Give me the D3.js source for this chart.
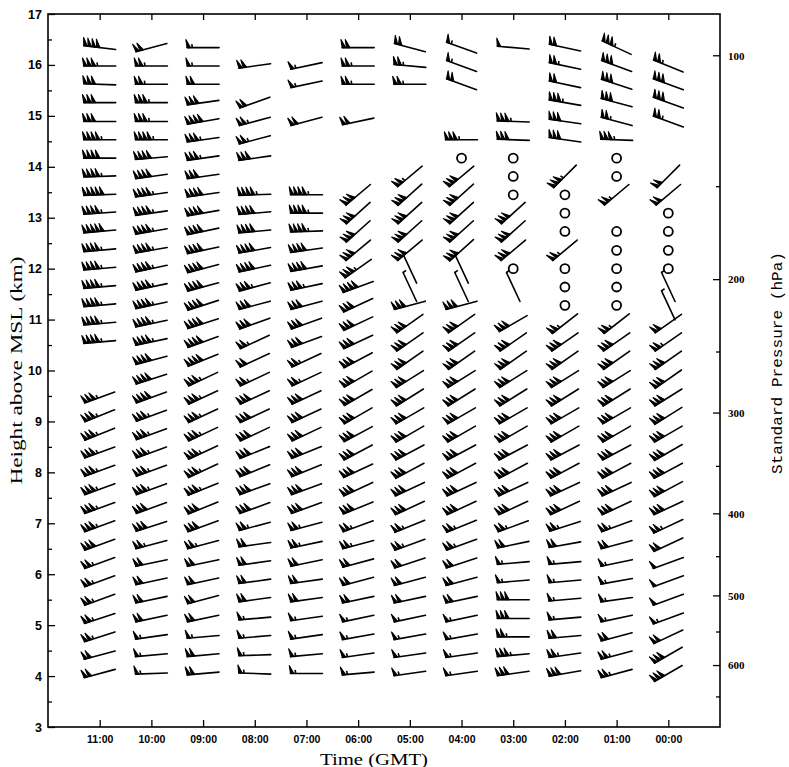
<!DOCTYPE html>
<html>
<head>
<meta charset="UTF-8">
<title>Profiler winds</title>
<script src="https://cdn.jsdelivr.net/npm/d3@7/dist/d3.min.js"></script>
<style>
  body { margin: 0; background: #fff; }
  text { fill: #000; }
</style>
</head>
<body>
<script>
// time columns, left to right (hours GMT)
var timeLabels = ["11:00","10:00","09:00","08:00","07:00","06:00","05:00","04:00","03:00","02:00","01:00","00:00"];
var timeHours = [11,10,9,8,7,6,5,4,3,2,1,0];

// range gate heights (km), bottom to top
var gateHeights = [4.05,4.41,4.77,5.13,5.50,5.86,6.22,6.58,6.94,7.30,7.67,8.03,8.39,8.75,9.11,9.47,
                   9.83,10.20,10.56,10.92,11.28,11.64,12.00,12.36,12.73,13.09,13.45,13.81,14.17,14.53,
                   14.89,15.26,15.62,15.98,16.34];

// axis ticks
var heightTicks = [3,4,5,6,7,8,9,10,11,12,13,14,15,16,17];
var heightMinor = [3.5,4.5,5.5,6.5,7.5,8.5,9.5,10.5,11.5,12.5,13.5,14.5,15.5,16.5];
var pressTicks = [100,200,300,400,500,600];
var pressMinor = [150,250,350,450,550,650];

// winds per column: [direction deg, speed], bottom gate first; null = no data, [0,0] = calm
var wind1100 = [[255,20],[255,20],[252,25],[252,25],[250,25],[250,25],[250,25],[250,30],[250,35],[250,35],[250,35],[250,35],[250,35],[248,35],[248,35],[250,35],null,null,
  [265,45],[265,45],[265,45],[265,45],[265,45],[265,45],[265,50],[266,45],[268,50],[268,45],[270,40],[270,45],[270,30],[270,30],[272,30],[270,35],[277,40]];
var wind1000 = [[268,15],[265,15],[262,15],[258,20],[258,20],[258,20],[258,20],[255,25],[252,30],[250,30],[250,35],[250,35],[250,35],[250,35],[250,35],[250,40],[252,40],[255,40],
  [258,45],[258,45],[258,45],[258,45],[258,45],[260,45],[260,45],[262,45],[262,45],[262,40],[265,40],[270,45],[270,35],[270,35],[270,25],[270,25],[255,20]];
var wind0900 = [[265,20],[265,20],[265,15],[258,20],[255,20],[258,20],[258,20],[255,25],[250,30],[248,30],[248,35],[245,35],[245,35],[245,35],[245,35],[245,35],[245,35],[248,40],
  [250,40],[252,40],[252,40],[255,40],[255,40],[258,40],[258,40],[260,40],[262,40],[262,30],[262,35],[262,35],[260,40],[262,30],[270,20],[270,15],[270,15]];
var wind0800 = [[272,15],[268,15],[265,15],[265,15],[262,20],[262,20],[262,20],[262,20],[255,25],[250,30],[250,30],[248,30],[248,30],[245,30],[245,30],[245,30],[245,25],[245,20],
  [245,25],[250,30],[255,30],[255,35],[258,40],[260,40],[265,40],[265,40],[268,45],null,[262,30],[255,25],[255,25],[250,20],null,[262,20],null];
var wind0700 = [[270,15],[265,15],[262,15],[262,15],[262,20],[262,20],[258,20],[258,25],[255,25],[250,30],[250,30],[248,30],[248,30],[245,30],[245,30],[245,30],[245,25],[245,25],
  [250,30],[250,30],[255,30],[258,35],[260,40],[262,40],[268,45],[270,45],[270,45],null,null,null,[255,20],null,[258,15],[258,15],null];
var wind0600 = [[265,15],[262,15],[260,15],[258,15],[258,20],[255,20],[255,20],[255,25],[250,25],[248,30],[245,30],[245,30],[242,30],[242,30],[240,30],[240,30],[240,30],[242,30],
  [245,30],[245,30],[245,30],[250,40],[235,35],[230,30],[228,30],[228,30],[230,30],null,null,null,[258,20],null,[270,25],[270,25],[270,20]];
var wind0500 = [[262,15],[262,15],[260,15],[258,15],[258,20],[255,20],[252,20],[250,25],[248,25],[245,30],[245,30],[242,30],[242,30],[240,30],[240,30],[238,30],[238,30],[235,30],
  [235,30],[235,30],[255,30],[335,5],[335,5],[230,30],[228,30],[228,30],[228,30],[230,25],null,null,null,null,[270,25],[275,25],[285,20]];
var wind0400 = [[262,15],[262,15],[260,15],[258,15],[258,20],[255,20],[252,20],[250,25],[248,25],[245,30],[245,30],[242,30],[242,30],[240,30],[240,30],[238,30],[238,30],[235,30],
  [235,30],[235,30],[255,30],[335,5],[335,5],[228,30],[228,30],[228,30],[228,30],[230,30],[0,0],[270,35],null,null,[290,20],[290,15],[290,15]];
var wind0300 = [[262,30],[265,35],[270,25],[270,30],[270,30],[265,15],[265,15],[258,20],[250,25],[245,30],[245,30],[242,30],[242,30],[240,30],[240,30],[238,30],[238,30],[235,30],
  [235,30],[240,30],null,[335,5],[0,0],[230,30],[228,30],[228,30],[0,0],[0,0],[0,0],[272,30],[272,35],null,null,null,[275,10]];
var wind0200 = [[260,30],[262,25],[265,20],[265,15],[265,15],[265,15],[265,15],[260,20],[252,25],[245,30],[245,30],[242,30],[242,30],[240,30],[240,30],[238,30],[238,30],[235,30],
  [235,30],[232,25],[0,0],[0,0],[0,0],[230,25],[0,0],[0,0],[0,0],[225,35],null,[278,30],[278,30],[280,35],[282,20],[282,25],[282,20]];
var wind0100 = [[255,25],[255,25],[255,20],[258,15],[262,15],[260,15],[258,15],[255,20],[250,25],[245,30],[245,30],[242,30],[242,30],[240,30],[240,30],[238,30],[238,30],[235,30],
  [235,30],[232,25],[0,0],[0,0],[0,0],[0,0],[0,0],null,[230,25],[0,0],[0,0],[272,35],[285,25],[285,30],[288,30],[290,30],[295,35]];
var wind0000 = [[240,30],[240,30],[245,20],[250,15],[250,10],[250,10],[250,10],[245,20],[245,25],[245,30],[242,30],[242,30],[240,30],[240,30],[238,30],[238,30],[235,30],[235,30],
  [235,25],[235,20],[335,5],[335,5],[0,0],[0,0],[0,0],[0,0],[230,20],[225,20],null,null,[290,25],[290,30],[290,30],[292,25],null];

var columns = [wind1100, wind1000, wind0900, wind0800, wind0700, wind0600, wind0500, wind0400, wind0300, wind0200, wind0100, wind0000];

var width = 789, height = 767;
var plotL = 48, plotR = 720, plotT = 14, plotB = 727;

var svg = d3.select("body").append("svg")
  .attr("width", width).attr("height", height)
  .style("font-family", "'Liberation Serif', 'DejaVu Serif', serif");

var x = d3.scaleLinear().domain([12, -1]).range([plotL, plotR]);
var y = d3.scaleLinear().domain([3, 17]).range([plotB, plotT]);

// standard atmosphere height (km) of a pressure level (hPa)
function stdHeight(p) {
  if (p >= 226.32) return 44.3308 * (1 - Math.pow(p / 1013.25, 0.190263));
  return 11 + 6.3416 * Math.log(226.32 / p);
}

// frame
svg.append("rect")
  .attr("x", plotL).attr("y", plotT)
  .attr("width", plotR - plotL).attr("height", plotB - plotT)
  .attr("fill", "none").attr("stroke", "#000").attr("stroke-width", 1.6);

// left axis (ticks inside)
var yAxis = d3.axisLeft(y).tickValues(heightTicks).tickSize(-7).tickPadding(6).tickFormat(d3.format("d"));
var gy = svg.append("g").attr("transform", "translate(" + plotL + ",0)").call(yAxis);
var yMinor = d3.axisLeft(y).tickValues(heightMinor).tickSize(-4).tickFormat("");
svg.append("g").attr("transform", "translate(" + plotL + ",0)").call(yMinor);

// bottom axis
var xAxis = d3.axisBottom(x).tickValues(timeHours).tickSize(-7).tickPadding(9)
  .tickFormat(function(d, i) { return timeLabels[i]; });
var gx = svg.append("g").attr("transform", "translate(0," + plotB + ")").call(xAxis);
// top ticks
var xTop = d3.axisTop(x).tickValues(timeHours).tickSize(-6).tickFormat("");
svg.append("g").attr("transform", "translate(0," + plotT + ")").call(xTop);

svg.selectAll(".domain").remove();
svg.selectAll(".tick line").attr("stroke", "#000").attr("stroke-width", 1.3);

gy.selectAll("text").attr("font-size", 12.5).attr("font-weight", "bold");
gx.selectAll("text").attr("font-size", 10.5).attr("font-weight", "bold");

// right pressure axis
svg.selectAll(".pmaj").data(pressTicks).join("line")
  .attr("x1", plotR - 7).attr("x2", plotR)
  .attr("y1", function(d) { return y(stdHeight(d)); })
  .attr("y2", function(d) { return y(stdHeight(d)); })
  .attr("stroke", "#000").attr("stroke-width", 1.3);
svg.selectAll(".pmin").data(pressMinor).join("line")
  .attr("x1", plotR - 4).attr("x2", plotR)
  .attr("y1", function(d) { return y(stdHeight(d)); })
  .attr("y2", function(d) { return y(stdHeight(d)); })
  .attr("stroke", "#000").attr("stroke-width", 1.3);
svg.selectAll(".plab").data(pressTicks).join("text")
  .attr("x", plotR + 8)
  .attr("y", function(d) { return y(stdHeight(d)); })
  .attr("dy", "0.35em")
  .attr("font-size", 11).attr("font-weight", "bold")
  .text(function(d) { return d; });

// axis titles
svg.append("text")
  .attr("transform", "translate(22," + ((plotT + plotB) / 2) + ") rotate(-90)")
  .attr("text-anchor", "middle").attr("font-size", 16)
  .attr("textLength", 228).attr("lengthAdjust", "spacingAndGlyphs")
  .text("Height above MSL (km)");
svg.append("text")
  .attr("x", (plotL + plotR) / 2 - 10).attr("y", 765)
  .attr("text-anchor", "middle").attr("font-size", 16)
  .attr("textLength", 108).attr("lengthAdjust", "spacingAndGlyphs")
  .text("Time (GMT)");
svg.append("text")
  .attr("transform", "translate(782," + 363 + ") rotate(-90)")
  .attr("text-anchor", "middle").attr("font-size", 15)
  .attr("font-family", "'Liberation Mono', 'DejaVu Sans Mono', monospace")
  .attr("textLength", 222).attr("lengthAdjust", "spacingAndGlyphs")
  .text("Standard Pressure (hPa)");

// wind barbs
var staffLen = 32, gap = 4.3, flagBase = 3.4, flagH = 8, lean = 1.2;

function drawBarb(g, dir, spd) {
  if (spd === 0) {
    g.append("circle").attr("r", 4.5).attr("fill", "none")
      .attr("stroke", "#000").attr("stroke-width", 1.8);
    return;
  }
  var a = dir * Math.PI / 180;
  var ux = Math.sin(a), uy = -Math.cos(a);   // toward where the wind comes from
  var px = -uy, py = ux;                       // feather side
  var tx = ux * staffLen / 2, ty = uy * staffLen / 2;
  g.append("line")
    .attr("x1", -tx).attr("y1", -ty).attr("x2", tx).attr("y2", ty)
    .attr("stroke", "#000").attr("stroke-width", 1.6).attr("stroke-linecap", "round");
  function pt(t) { return [tx - ux * t, ty - uy * t]; }
  var n = Math.floor(spd / 10), half = (spd % 10) >= 5;
  for (var k = 0; k < n; k++) {
    var p1 = pt(k * gap), p2 = pt(k * gap + flagBase);
    var ap = [p1[0] + px * flagH + ux * lean, p1[1] + py * flagH + uy * lean];
    g.append("path")
      .attr("d", "M" + p1 + "L" + ap + "L" + p2 + "Z")
      .attr("fill", "#000").attr("stroke", "#000").attr("stroke-width", 1.1)
      .attr("stroke-linejoin", "round");
  }
  if (half) {
    var h0 = pt(n > 0 ? n * gap + 1 : 0);
    g.append("line")
      .attr("x1", h0[0]).attr("y1", h0[1])
      .attr("x2", h0[0] + px * flagH * 0.45 + ux * lean * 0.5)
      .attr("y2", h0[1] + py * flagH * 0.45 + uy * lean * 0.5)
      .attr("stroke", "#000").attr("stroke-width", 1.6);
  }
}

var barbs = svg.append("g");
columns.forEach(function(col, c) {
  col.forEach(function(w, i) {
    if (!w) return;
    var g = barbs.append("g")
      .attr("transform", "translate(" + x(timeHours[c]) + "," + y(gateHeights[i]) + ")");
    drawBarb(g, w[0], w[1]);
  });
});
</script>
</body>
</html>
